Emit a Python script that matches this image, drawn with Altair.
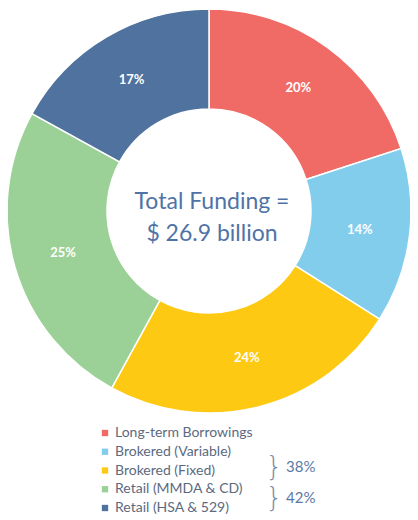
import altair as alt
import pandas as pd

categories = ["Long-term Borrowings", "Brokered (Variable)", "Brokered (Fixed)",
              "Retail (MMDA & CD)", "Retail (HSA & 529)"]
shares = [20, 14, 24, 25, 17]
colors = ["#F06B66", "#83CDEC", "#FDC912", "#9BD196", "#4F739E"]
center_lines = ["Total Funding =", "$ 26.9 billion"]
group_labels = ["38%", "42%"]

df = pd.DataFrame({
    "category": categories,
    "share": shares,
    "order": list(range(len(categories))),
    "label": [f"{s}%" for s in shares],
})

CX, CY = 201, 203
color_scale = alt.Scale(domain=categories, range=colors)

base = alt.Chart(df).encode(
    theta=alt.Theta("share:Q", stack=True),
    order=alt.Order("order:Q"),
)

arcs = base.mark_arc(innerRadius=102, outerRadius=202, stroke="white", strokeWidth=1.5).encode(
    color=alt.Color("category:N", scale=color_scale, legend=None),
    x=alt.value(CX), y=alt.value(CY),
)

labels = base.mark_text(radius=152, font="Lato", fontWeight="bold", fontSize=13,
                        color="white", align="center", baseline="middle").encode(
    text="label:N", x=alt.value(CX), y=alt.value(CY),
)

center_df = pd.DataFrame({"line": center_lines, "i": [0, 1]})
center = alt.Chart(center_df).mark_text(font="Lato", fontSize=23, color="#4F73A6",
                                        align="center", baseline="middle").encode(
    text="line:N",
    x=alt.value(CX + 3),
    y=alt.Y("i:O", scale=alt.Scale(type="point", domain=[0, 1], range=[194, 226], padding=0), axis=None),
)

leg_df = pd.DataFrame({"category": categories})
leg_y = alt.Y("category:N", scale=alt.Scale(type="point", domain=categories, range=[425, 500], padding=0), axis=None)
leg_sq = alt.Chart(leg_df).mark_square(size=40, opacity=1).encode(
    x=alt.value(97), y=leg_y,
    color=alt.Color("category:N", scale=color_scale, legend=None),
)
leg_txt = alt.Chart(leg_df).mark_text(font="Lato", fontSize=14, color="#5B6A80",
                                      align="left", baseline="middle").encode(
    x=alt.value(107), y=leg_y, text="category:N",
)

grp_df = pd.DataFrame({"g": group_labels, "i": [0, 1], "brace": ["}", "}"]})
grp_y = alt.Y("i:O", scale=alt.Scale(type="point", domain=[0, 1], range=[459, 490], padding=0), axis=None)
braces = alt.Chart(grp_df).mark_text(font="DejaVu Sans", fontWeight=200, fontSize=27, color="#7B8EA8",
                                     align="center", baseline="middle").encode(
    x=alt.value(266), y=grp_y, text="brace:N",
)
grp_txt = alt.Chart(grp_df).mark_text(font="Lato", fontSize=15, color="#5A7AA6",
                                      align="left", baseline="middle").encode(
    x=alt.value(278), y=grp_y, text="g:N",
)

chart = alt.layer(arcs, labels, center, leg_sq, leg_txt, braces, grp_txt).resolve_scale(
    y="independent"
).properties(
    width=402, height=506, padding=0, autosize="none"
).configure_view(stroke=None)

chart.save("out.html", embed_options={"renderer": "svg", "actions": False})
